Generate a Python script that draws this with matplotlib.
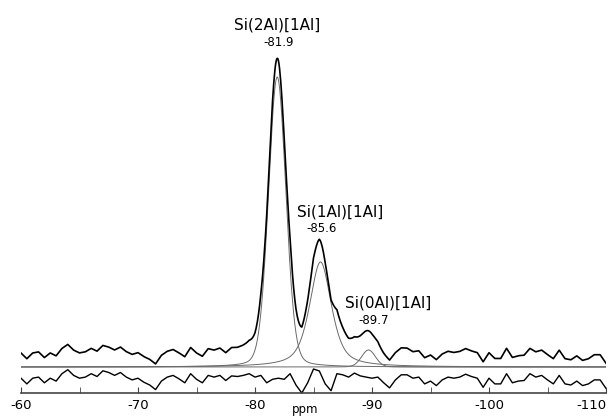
import numpy as np
import matplotlib
matplotlib.use('Agg')
import matplotlib.pyplot as plt

# chemical shift grid of the residual trace (ppm), 0.5 ppm steps
ppm_step = 0.5
ppm_start = -60.0
ppm_end = -110.0

residual = [
    3.8, -1.9, 3.8, 4.9, -0.8, 3.8, 0.9, 8.3, 12.3, 6.6, 3.8, 4.9, 8.3, 5.5,
    11.2, 9.5, 6.6, 9.5, 4.9, 2.1, 3.8, -0.2, -3.0, -7.6, 0.9,
    4.9, 6.6, 3.2, -0.8, 8.3, 2.7, -0.8, 6.6, 4.9, 6.6, 1.5, 6.1, 5.5, 6.6,
    8.3, 4.9, 6.6, -0.8, 2.7, 3.8, 2.7, 8.3, -3.0, -11.0, -0.8,
    13.0, 11.0, -1.9, -8.7, 8.3, 7.2, 4.9, 8.9, 6.1, 4.9, 3.8, 4.9, -0.8,
    -5.9, 2.1, 7.2, 7.2, 3.8, 4.9, -1.9, 0.9, -3.6, 2.1, 4.9,
    3.8, 4.9, 7.8, 5.5, 3.8, -5.3, 3.8, -1.9, -1.9, 8.3, -0.8, 0.9, 1.5,
    8.3, 4.9, 6.6, 2.1, -1.9, 6.6, -1.9, -3.0, 0.9, -3.6, -1.9, 2.1, 2.1,
    -6.4,
]

# deconvoluted components
peak_names = ['Si(2Al)[1Al]', 'Si(1Al)[1Al]', 'Si(0Al)[1Al]']
peak_centers = [-81.9, -85.6, -89.7]
peak_heights = [290, 105, 17]
peak_fwhm = [1.75, 2.2, 1.4]
peak_lorentz = [0.15, 0.6, 0.1]

tick_values = [-60, -70, -80, -90, -100, -110]
tick_labels = ['-60', '-70', '-80', '-90', '-100', '-110']

spec_offset = 10
resid_offset = -15


def pseudo_voigt(x, c, h, w, eta):
    d = (x - c) / w
    lor = 1.0 / (1.0 + 4.0 * d ** 2)
    gau = np.exp(-4.0 * np.log(2) * d ** 2)
    return h * (eta * lor + (1 - eta) * gau)


ppm = np.arange(len(residual)) * -ppm_step + ppm_start
res = np.array(residual)
fine = np.linspace(ppm_start, ppm_end, 1001)
res_fine = np.interp(fine, ppm[::-1], res[::-1])

comps = [pseudo_voigt(fine, c, h, w, e) for c, h, w, e in
         zip(peak_centers, peak_heights, peak_fwhm, peak_lorentz)]
fit = np.sum(comps, axis=0)
spectrum = fit + res_fine + spec_offset

fig = plt.figure(figsize=(6.16, 4.16), dpi=100)
ax = fig.add_axes([21 / 616, 0, 585 / 616, 1])
ax.set_xlim(ppm_start, ppm_end)
ax.set_ylim(-49, 367)

for comp in comps:
    ax.plot(fine, comp, color='#6a6a6a', lw=0.7)
ax.plot(fine, spectrum, color='black', lw=1.2)
ax.plot(ppm, res + resid_offset, color='black', lw=1.0)

for s in ['top', 'left', 'right']:
    ax.spines[s].set_visible(False)
ax.spines['bottom'].set_position(('data', -26))
ax.spines['bottom'].set_color('#444444')
ax.spines['bottom'].set_linewidth(1.2)
ax.set_yticks([])
ax.set_xticks(tick_values)
ax.set_xticklabels(tick_labels)
ax.set_xticks(np.arange(-65, -110, -10), minor=True)
ax.tick_params(axis='x', which='both', direction='in', length=4,
               color='#444444', labelsize=9.5, pad=4)
ax.get_xticklabels()[-1].set_horizontalalignment('right')
ax.get_xticklabels()[-1].set_x(-110.7)
ax.patch.set_visible(False)

# peak labels
label_pos = [(-81.9, 342), (-87.3, 155), (-91.4, 64)]
shift_pos = [(-82.0, 324), (-85.7, 139), (-90.1, 47)]
for name, c, (lx, ly), (sx, sy) in zip(peak_names, peak_centers,
                                        label_pos, shift_pos):
    ax.text(lx, ly, name, ha='center', va='center', fontsize=11)
    ax.text(sx, sy, '%.1f' % c, ha='center', va='center', fontsize=8.5)

ax.text(-84.3, -43, 'ppm', ha='center', va='center', fontsize=8.5)

fig.savefig('out.png', dpi=100)
